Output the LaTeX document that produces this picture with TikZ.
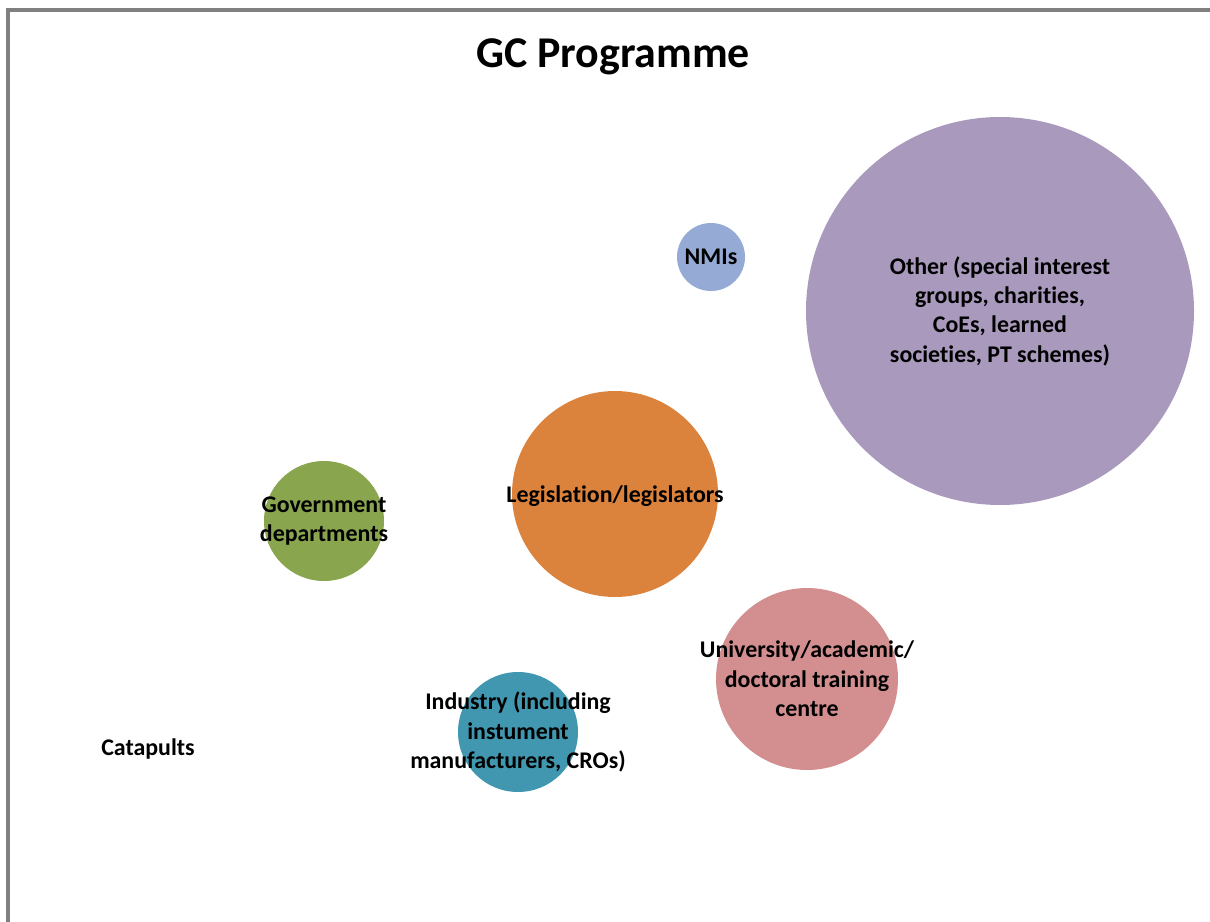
\documentclass[tikz,border=0pt]{standalone}
\usepackage{fontspec}
\setmainfont{Carlito}[Ligatures=NoCommon]

\definecolor{framegray}{RGB}{128,128,128}
\definecolor{otherpurple}{RGB}{169,154,189}
\definecolor{nmiblue}{RGB}{149,170,212}
\definecolor{legorange}{RGB}{219,131,61}
\definecolor{govgreen}{RGB}{137,165,78}
\definecolor{unipink}{RGB}{211,143,144}
\definecolor{indteal}{RGB}{64,151,175}

\begin{document}
\begin{tikzpicture}[x=0.02cm,y=-0.02cm,
  bubble/.style={circle,fill=#1,draw=none,inner sep=0pt},
  lab/.style={font=\fontsize{13.6}{16.7}\selectfont\bfseries,align=center,inner sep=0pt}]
  \useasboundingbox (0,0) rectangle (1210,922);
  % ---------- chart frame (left and top edges only visible) ----------
  \draw[framegray,line width=1.8pt] (8,922) -- (8,10) -- (1210,10);
  \node[font=\fontsize{25}{30}\selectfont\bfseries] (title) at (613,57) {GC Programme};
  % ---------- bubbles ----------
  \node[bubble=otherpurple,minimum size=388*0.02cm] (other) at (1000,311) {};
  \node[bubble=nmiblue,minimum size=68*0.02cm] (nmi) at (711,257) {};
  \node[bubble=legorange,minimum size=206*0.02cm] (leg) at (615,494) {};
  \node[bubble=govgreen,minimum size=120*0.02cm] (gov) at (324,521) {};
  \node[bubble=unipink,minimum size=182*0.02cm] (uni) at (807,679) {};
  \node[bubble=indteal,minimum size=120*0.02cm] (ind) at (518,732) {};
  % ---------- labels ----------
  \node[lab] (otherlab) at (other) {Other (special interest\\groups, charities,\\CoEs, learned\\societies, PT schemes)};
  \node[lab] (nmilab) at (nmi) {NMIs};
  \node[lab] (leglab) at ([yshift=-2*0.02cm]leg) {Legislation/legislators};
  \node[lab] (govlab) at (gov) {Government\\departments};
  \node[lab] (unilab) at (uni) {University/academic/\\doctoral training\\centre};
  \node[lab] (indlab) at (ind) {Industry (including\\instument\\manufacturers, CROs)};
  \node[lab] (cat) at (148,749) {Catapults};
\end{tikzpicture}
\end{document}
